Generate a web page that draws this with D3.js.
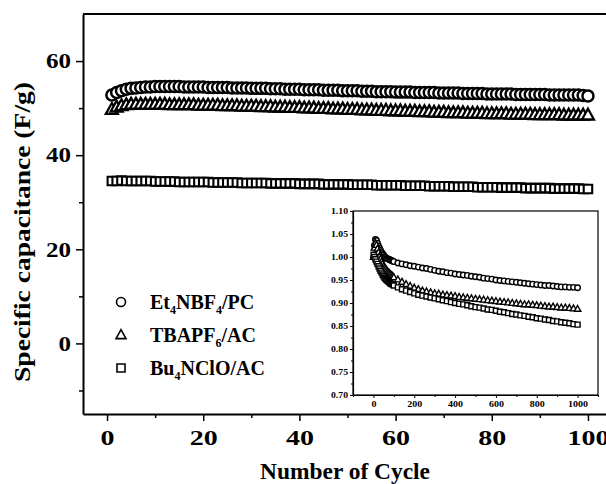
<!DOCTYPE html>
<html><head><meta charset="utf-8">
<script src="https://cdn.jsdelivr.net/npm/d3@7/dist/d3.min.js"></script>
<style>body{margin:0;background:#fff}svg{display:block}svg text{font-family:"Liberation Serif","Times New Roman",Times,serif !important;font-weight:bold;fill:#000}</style>
</head><body><svg id="c" width="606" height="484" font-family="Liberation Serif"></svg>
<script>
// ---------- main chart data ----------
const cycles = d3.range(1, 101);
const et4nbf4 = [52.8,53.3,53.7,54.0,54.2,54.3,54.4,54.5,54.5,54.6,
 54.6,54.6,54.6,54.6,54.6,54.5,54.5,54.5,54.5,54.5,
 54.4,54.4,54.4,54.4,54.4,54.3,54.3,54.3,54.3,54.2,
 54.2,54.2,54.2,54.1,54.1,54.1,54.0,54.0,54.0,54.0,
 53.9,53.9,53.9,53.9,53.8,53.8,53.8,53.8,53.7,53.7,
 53.7,53.7,53.6,53.6,53.6,53.5,53.5,53.5,53.5,53.4,
 53.4,53.4,53.4,53.3,53.3,53.3,53.3,53.3,53.2,53.2,
 53.2,53.2,53.2,53.1,53.1,53.1,53.1,53.1,53.0,53.0,
 53.0,53.0,53.0,53.0,52.9,52.9,52.9,52.9,52.9,52.9,
 52.9,52.8,52.8,52.8,52.8,52.8,52.8,52.8,52.7,52.6];
const tbapf6 = [49.7,50.2,50.5,50.7,50.8,50.8,50.8,50.8,50.8,50.8,
 50.8,50.8,50.7,50.7,50.7,50.7,50.7,50.7,50.6,50.6,
 50.6,50.6,50.6,50.5,50.5,50.5,50.5,50.4,50.4,50.4,
 50.4,50.3,50.3,50.3,50.2,50.2,50.2,50.1,50.1,50.1,
 50.0,50.0,50.0,49.9,49.9,49.9,49.8,49.8,49.8,49.7,
 49.7,49.7,49.6,49.6,49.6,49.5,49.5,49.5,49.4,49.4,
 49.4,49.3,49.3,49.3,49.2,49.2,49.2,49.1,49.1,49.1,
 49.0,49.0,49.0,49.0,48.9,48.9,48.9,48.9,48.8,48.8,
 48.8,48.8,48.8,48.7,48.7,48.7,48.7,48.7,48.6,48.6,
 48.6,48.6,48.6,48.6,48.5,48.5,48.5,48.5,48.5,48.5];
const bu4nclo = [34.5,34.5,34.6,34.5,34.5,34.5,34.5,34.5,34.5,34.4,
 34.4,34.4,34.4,34.4,34.3,34.3,34.3,34.3,34.3,34.3,
 34.3,34.2,34.2,34.2,34.2,34.2,34.2,34.1,34.1,34.1,
 34.1,34.1,34.1,34.0,34.0,34.0,34.0,34.0,34.0,33.9,
 33.9,33.9,33.9,33.9,33.8,33.8,33.8,33.8,33.8,33.8,
 33.7,33.7,33.7,33.7,33.7,33.6,33.6,33.6,33.6,33.6,
 33.6,33.5,33.5,33.5,33.5,33.5,33.4,33.4,33.4,33.4,
 33.4,33.3,33.3,33.3,33.3,33.3,33.2,33.2,33.2,33.2,
 33.2,33.1,33.1,33.1,33.1,33.1,33.0,33.0,33.0,33.0,
 33.0,33.0,32.9,32.9,32.9,32.9,32.9,32.9,32.8,32.8];
const xTicks = [0,20,40,60,80,100];
const yTicks = [0,20,40,60];
const legendLabels = [["Et","4","NBF","4","/PC"],["TBAPF","6","/AC"],["Bu","4","NClO/AC"]];
const xTitle = "Number of Cycle";
const yTitle = "Specific capacitance (F/g)";

// ---------- inset data ----------
const insetCycles = [1,5,10,15,20,25,30,35,40,45,50,55,60,65,70,75,80,85,90,95,100,
 120,140,160,180,200,220,240,260,280,300,320,340,360,380,400,420,440,460,480,500,
 520,540,560,580,600,620,640,660,680,700,720,740,760,780,800,820,840,860,880,900,
 920,940,960,980,1000];
const insetEt = [1.000,1.025,1.038,1.036,1.030,1.024,1.019,1.014,1.010,1.007,1.004,1.001,0.999,0.997,0.996,0.995,0.994,0.993,0.992,0.991,0.990,
 0.987,0.985,0.983,0.981,0.980,0.978,0.976,0.975,0.973,0.971,0.969,0.968,0.966,0.965,0.963,0.962,0.961,0.960,0.958,0.957,
 0.956,0.954,0.953,0.952,0.950,0.949,0.948,0.947,0.946,0.945,0.944,0.943,0.942,0.941,0.940,0.939,0.938,0.938,0.937,0.936,
 0.935,0.935,0.934,0.934,0.933];
const insetTb = [1.000,1.020,1.030,1.026,1.018,1.010,1.002,0.996,0.990,0.985,0.980,0.977,0.974,0.971,0.968,0.966,0.964,0.962,0.960,0.958,0.956,
 0.951,0.946,0.941,0.937,0.933,0.930,0.927,0.925,0.923,0.921,0.920,0.918,0.917,0.916,0.915,0.913,0.912,0.911,0.910,0.909,
 0.908,0.907,0.906,0.905,0.904,0.903,0.902,0.901,0.900,0.899,0.898,0.897,0.897,0.896,0.895,0.894,0.893,0.892,0.892,0.891,
 0.890,0.890,0.889,0.888,0.887];
const insetBu = [1.005,1.000,0.995,0.990,0.985,0.980,0.975,0.970,0.966,0.962,0.958,0.955,0.952,0.950,0.948,0.946,0.944,0.942,0.941,0.940,0.938,
 0.934,0.930,0.927,0.924,0.921,0.918,0.916,0.914,0.912,0.910,0.908,0.906,0.904,0.902,0.900,0.898,0.897,0.895,0.893,0.891,
 0.890,0.888,0.886,0.885,0.883,0.881,0.880,0.878,0.876,0.875,0.873,0.872,0.870,0.869,0.867,0.866,0.864,0.863,0.861,0.860,
 0.858,0.857,0.856,0.854,0.853];
const insetXTicks = [0,200,400,600,800,1000];
const insetYTicks = [0.70,0.75,0.80,0.85,0.90,0.95,1.00,1.05,1.10];

// ---------- drawing ----------
const FONT = "Liberation Serif";
const svg = d3.select("#c");
const M = {left:83, top:14, right:612, bottom:414};
const x = d3.scaleLinear().domain([-5,105]).range([M.left,M.right]);
const y = d3.scaleLinear().domain([-15,70]).range([M.bottom,M.top]);

function tri(s){const h=s*0.9;return `M0,${-h*0.6}L${s/2},${h*0.4}L${-s/2},${h*0.4}Z`;}
function sq(s){return `M${-s/2},${-s/2}h${s}v${s}h${-s}Z`;}
function circ(s){const r=s/2;return `M${-r},0a${r},${r} 0 1,0 ${s},0a${r},${r} 0 1,0 ${-s},0Z`;}

function drawSeries(g, xs, ys, sx, sy, shape, size, sw){
  g.append("g").selectAll("path").data(xs.map((d,i)=>[d,ys[i]])).join("path")
   .attr("transform",d=>`translate(${sx(d[0])},${sy(d[1])})`)
   .attr("d",shape(size)).attr("fill","#fff").attr("stroke","#000").attr("stroke-width",sw);
}

// top frame line
svg.append("line").attr("x1",M.left).attr("x2",606).attr("y1",M.top).attr("y2",M.top).attr("stroke","#000").attr("stroke-width",2);

// main series
drawSeries(svg, cycles, et4nbf4, x, y, circ, 11, 2.5);
drawSeries(svg, cycles, tbapf6, x, y, tri, 12, 2.3);
drawSeries(svg, cycles, bu4nclo, x, y, sq, 8.5, 2.1);

// axes
const xAxis = svg.append("g").attr("transform",`translate(0,${M.bottom})`)
  .call(d3.axisBottom(x).tickValues(xTicks).tickSize(7).tickSizeOuter(0).tickPadding(8));
svg.append("g").attr("transform",`translate(0,${M.bottom})`)
  .call(d3.axisBottom(x).tickValues([10,30,50,70,90]).tickSize(4).tickFormat("").tickSizeOuter(0))
  .select(".domain").remove();
const yAxis = svg.append("g").attr("transform",`translate(${M.left},0)`)
  .call(d3.axisLeft(y).tickValues(yTicks).tickSize(7).tickSizeOuter(0).tickPadding(5));
svg.append("g").attr("transform",`translate(${M.left},0)`)
  .call(d3.axisLeft(y).tickValues([-10,10,30,50]).tickSize(4).tickFormat("").tickSizeOuter(0))
  .select(".domain").remove();
svg.selectAll(".domain").attr("stroke-width",2).attr("stroke","#000");
svg.selectAll(".tick line").attr("stroke-width",1.5).attr("stroke","#000");
svg.selectAll("g").attr("font-family",FONT);
xAxis.selectAll("text").attr("font-size",22).attr("font-family",FONT).attr("font-weight","bold")
  .attr("fill","#000").each(function(d){d3.select(this).attr("textLength",String(d).length*14).attr("lengthAdjust","spacingAndGlyphs");});
yAxis.selectAll("text").attr("font-size",20).attr("font-family",FONT).attr("font-weight","bold")
  .attr("fill","#000").attr("dy","0.34em").each(function(d){d3.select(this).attr("textLength",String(d).length*12.5).attr("lengthAdjust","spacingAndGlyphs");});

// titles
svg.append("text").attr("x",345).attr("y",479).attr("text-anchor","middle").attr("font-size",24).attr("font-family",FONT)
  .attr("textLength",170).attr("lengthAdjust","spacingAndGlyphs").text(xTitle);
svg.append("text").attr("transform","translate(30,232) rotate(-90)").attr("text-anchor","middle").attr("font-size",23).attr("font-family",FONT)
  .attr("textLength",300).attr("lengthAdjust","spacingAndGlyphs").text(yTitle);

// legend
const legShapes = [circ, tri, sq];
const legY = [302, 335, 368];
legendLabels.forEach((parts,i)=>{
  svg.append("path").attr("transform",`translate(121,${legY[i]})`).attr("d",legShapes[i](i===1?10:i===0?9:8))
    .attr("fill","#fff").attr("stroke","#000").attr("stroke-width",1.6);
  const t = svg.append("text").attr("x",150).attr("y",legY[i]+7).attr("font-size",20).attr("font-family",FONT);
  parts.forEach((p,k)=>{
    const isSub = /^\d$/.test(p);
    const ts = t.append("tspan").text(p);
    if(isSub) ts.attr("font-size",12).attr("dy",5);
    else if(k>0) ts.attr("dy",-5);
  });
});

// ---------- inset ----------
const I = {left:353, top:211, right:598, bottom:395};
const ix = d3.scaleLinear().domain([-100,1100]).range([I.left,I.right]);
const iy = d3.scaleLinear().domain([0.70,1.10]).range([I.bottom,I.top]);
svg.append("rect").attr("x",I.left).attr("y",I.top).attr("width",I.right-I.left).attr("height",I.bottom-I.top)
  .attr("fill","#fff").attr("stroke","#000").attr("stroke-width",1.2);
drawSeries(svg, insetCycles, insetEt, ix, iy, circ, 5.5, 1.4);
drawSeries(svg, insetCycles, insetTb, ix, iy, tri, 6.5, 1.4);
drawSeries(svg, insetCycles, insetBu, ix, iy, sq, 5, 1.4);
const ixa = svg.append("g").attr("transform",`translate(0,${I.bottom})`)
  .call(d3.axisBottom(ix).tickValues(insetXTicks).tickSize(3).tickSizeOuter(0).tickPadding(3).tickFormat(d3.format("d")));
svg.append("g").attr("transform",`translate(0,${I.bottom})`)
  .call(d3.axisBottom(ix).tickValues([-100,100,300,500,700,900,1100]).tickSize(2).tickFormat("").tickSizeOuter(0))
  .select(".domain").remove();
const iya = svg.append("g").attr("transform",`translate(${I.left},0)`)
  .call(d3.axisLeft(iy).tickValues(insetYTicks).tickSize(3).tickSizeOuter(0).tickPadding(2).tickFormat(d3.format(".2f")));
svg.append("g").attr("transform",`translate(${I.left},0)`)
  .call(d3.axisLeft(iy).tickValues([0.725,0.775,0.825,0.875,0.925,0.975,1.025,1.075]).tickSize(2).tickFormat("").tickSizeOuter(0))
  .select(".domain").remove();
[ixa, iya].forEach(a=>{ a.select(".domain").attr("stroke-width",1.2); });
svg.selectAll("g .tick line").attr("stroke","#000");
ixa.selectAll("text").attr("font-size",8.5).attr("font-family",FONT).attr("font-weight","bold").attr("fill","#000")
  .each(function(d){d3.select(this).attr("textLength",String(d).length*5).attr("lengthAdjust","spacingAndGlyphs");});
iya.selectAll("text").attr("font-size",8.5).attr("font-family",FONT).attr("font-weight","bold").attr("fill","#000")
  .attr("textLength",17).attr("lengthAdjust","spacingAndGlyphs");
</script></body></html>
